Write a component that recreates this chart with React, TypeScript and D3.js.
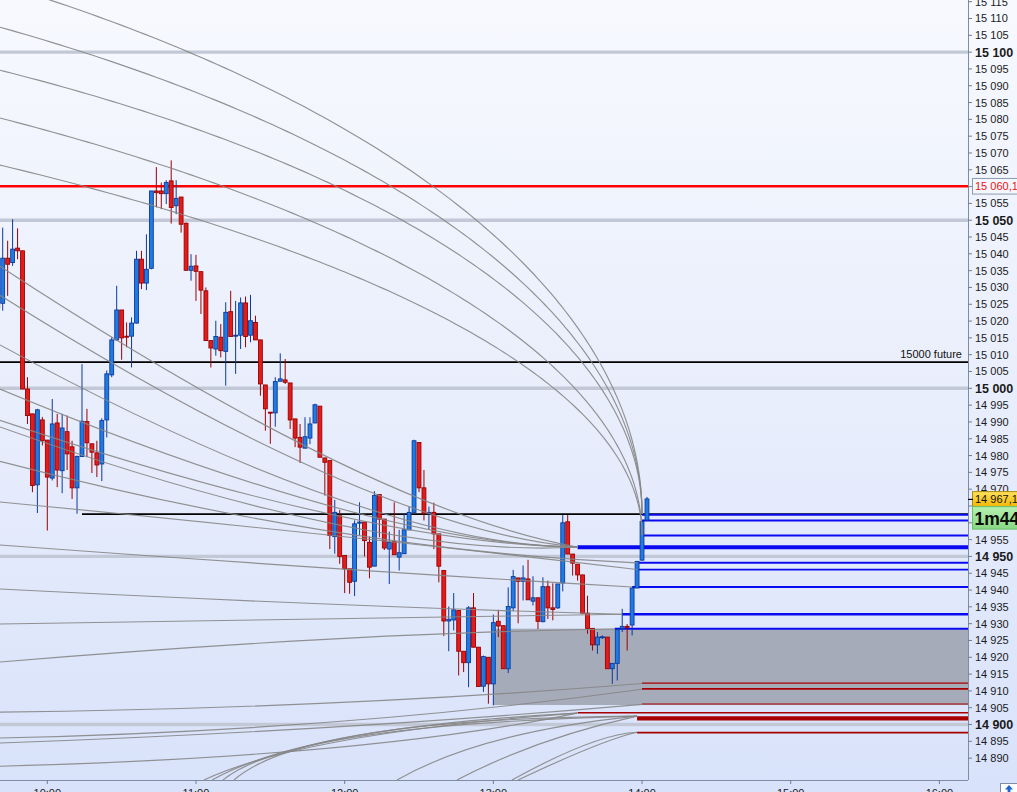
import React from "react";
import * as d3 from "d3";

// ---------- DATA ----------
// 2-minute candles starting 09:40 (minutes relative to 10:00)
const CANDLE_START_MIN = -20;
const CANDLE_STEP_MIN = 2;

const opens = [
  15030.0, 15025.3, 15038.7, 15037.4, 15041.7, 15040.9, 14999.8, 14992.4, 14971.3, 14990.6,
  14984.6, 14973.3, 14989.7, 14975.5, 14987.1, 14982.6, 14970.4, 14979.7, 14990.1, 14983.5,
  14980.8, 14977.5, 14990.6, 15004.0, 15014.4, 15023.3, 15015.5, 15015.5, 15019.4, 15038.4,
  15031.3, 15035.7, 15058.7, 15058.7, 15057.9, 15061.7, 15054.3, 15056.9, 15049.1, 15035.1,
  15036.4, 15034.7, 15029.0, 15014.2, 15011.7, 15015.2, 15011.0, 15022.8, 15015.6, 15015.8,
  15025.4, 15015.8, 15019.6, 15014.4, 15001.0, 14992.9, 14992.7, 15002.1, 15002.5, 15001.6,
  14990.9, 14985.4, 14982.2, 14985.2, 14989.7, 14994.7, 14979.3, 14978.5, 14955.9, 14962.1,
  14950.3, 14946.3, 14942.6, 14959.9, 14960.2, 14954.2, 14947.1, 14968.4, 14961.1, 14952.2,
  14954.4, 14949.8, 14950.8, 14957.9, 14963.1, 14983.9, 14970.4, 14962.8, 14963.1, 14956.7,
  14945.8, 14930.8, 14931.1, 14933.9, 14921.8, 14918.4, 14934.7, 14923.0, 14911.4, 14920.0,
  14912.1, 14930.7, 14929.4, 14916.6, 14934.7, 14943.6, 14942.6, 14943.3, 14936.7, 14937.7,
  14930.6, 14941.0, 14934.7, 14934.7, 14942.1, 14960.3, 14950.7, 14947.7, 14944.5, 14933.1,
  14928.6, 14923.7, 14926.0, 14926.0, 14916.6, 14918.2, 14928.6, 14929.2, 14929.6, 14940.6,
  14948.9, 14960.8,
];
const highs = [
  15032.0, 15047.8, 15043.9, 15050.3, 15047.6, 15041.0, 15003.3, 14992.4, 14993.9, 14991.5,
  14984.6, 14996.8, 14992.4, 14992.4, 14991.9, 14984.4, 14980.0, 15007.2, 14993.9, 14983.5,
  14984.4, 14991.1, 15005.3, 15015.2, 15030.5, 15023.3, 15019.6, 15021.1, 15040.9, 15040.9,
  15045.8, 15058.7, 15065.8, 15061.2, 15061.9, 15067.8, 15061.9, 15056.9, 15049.3, 15039.9,
  15039.7, 15034.7, 15030.0, 15014.2, 15020.1, 15019.1, 15025.6, 15029.0, 15026.0, 15027.0,
  15027.3, 15027.8, 15021.6, 15014.4, 15001.0, 14992.9, 15003.3, 15010.4, 15008.7, 15001.6,
  14990.9, 14989.4, 14991.4, 14991.4, 14995.4, 14994.7, 14979.3, 14978.5, 14966.8, 14963.8,
  14950.3, 14946.3, 14960.7, 14966.1, 14960.2, 14955.9, 14969.4, 14968.4, 14961.1, 14957.4,
  14966.1, 14957.9, 14962.8, 14964.8, 14984.7, 14983.9, 14975.7, 14964.8, 14966.0, 14956.7,
  14945.8, 14935.1, 14939.1, 14933.9, 14921.8, 14935.2, 14939.1, 14923.0, 14920.5, 14920.0,
  14932.7, 14934.1, 14929.4, 14940.8, 14946.0, 14943.6, 14947.3, 14949.0, 14944.1, 14937.7,
  14943.8, 14942.8, 14942.0, 14941.8, 14962.3, 14962.3, 14950.7, 14947.7, 14944.5, 14938.3,
  14928.6, 14927.5, 14926.5, 14926.0, 14918.2, 14928.2, 14934.4, 14929.9, 14940.8, 14948.7,
  14960.4, 14967.7,
];
const lows = [
  15023.0, 15023.1, 15027.5, 15036.4, 15038.4, 14999.8, 14989.4, 14969.1, 14962.9, 14983.0,
  14957.7, 14972.6, 14970.6, 14968.8, 14975.7, 14967.1, 14962.7, 14979.7, 14979.5, 14974.8,
  14973.6, 14972.4, 14985.4, 15003.3, 15014.2, 15008.5, 15012.2, 15006.2, 15019.3, 15029.5,
  15029.2, 15035.4, 15053.8, 15053.3, 15054.8, 15049.0, 15051.8, 15046.3, 15035.1, 15032.0,
  15026.0, 15022.1, 15014.2, 15006.2, 15009.7, 15009.2, 15000.8, 15015.4, 15004.3, 15011.7,
  15012.2, 15013.7, 15014.4, 14997.8, 14987.4, 14983.5, 14988.6, 15002.1, 15001.3, 14987.9,
  14982.5, 14977.8, 14982.2, 14983.4, 14989.6, 14979.5, 14968.1, 14952.2, 14950.8, 14947.8,
  14939.1, 14938.9, 14938.2, 14956.2, 14950.0, 14943.5, 14947.1, 14955.7, 14951.9, 14941.8,
  14950.5, 14945.8, 14950.8, 14957.9, 14963.1, 14969.1, 14960.7, 14957.9, 14952.2, 14942.3,
  14926.3, 14921.8, 14928.0, 14914.6, 14915.6, 14911.1, 14923.0, 14911.3, 14909.7, 14906.2,
  14905.7, 14926.0, 14916.6, 14915.3, 14933.7, 14930.1, 14936.9, 14937.1, 14935.4, 14928.4,
  14930.4, 14931.4, 14931.0, 14934.4, 14939.6, 14950.7, 14944.3, 14942.8, 14933.1, 14927.0,
  14922.0, 14921.0, 14925.5, 14916.6, 14912.1, 14913.1, 14927.5, 14922.0, 14926.5, 14940.6,
  14948.7, 14960.8,
];
const closes = [
  15024.0, 15038.7, 15036.9, 15041.4, 15040.9, 14999.8, 14991.9, 14971.1, 14993.6, 14984.4,
  14973.6, 14989.4, 14975.7, 14988.2, 14980.5, 14970.4, 14979.7, 14990.2, 14983.8, 14981.0,
  14977.2, 14990.4, 15004.3, 15014.4, 15023.3, 15015.0, 15015.2, 15019.4, 15038.4, 15031.3,
  15035.4, 15058.7, 15058.2, 15057.9, 15061.2, 15053.8, 15056.5, 15048.8, 15035.1, 15036.3,
  15034.8, 15029.2, 15014.2, 15012.0, 15015.4, 15011.2, 15022.6, 15015.4, 15015.8, 15025.4,
  15015.4, 15020.1, 15014.4, 15001.3, 14993.9, 14992.6, 15002.0, 15002.8, 15001.8, 14990.6,
  14985.2, 14982.5, 14985.6, 14989.4, 14995.1, 14979.5, 14978.0, 14956.2, 14963.1, 14950.0,
  14946.3, 14942.3, 14959.7, 14960.2, 14954.7, 14946.8, 14968.1, 14961.1, 14952.5, 14954.2,
  14950.5, 14951.1, 14957.9, 14963.1, 14984.4, 14970.4, 14962.8, 14963.1, 14956.7, 14947.1,
  14930.8, 14931.3, 14934.1, 14921.8, 14918.4, 14934.7, 14923.0, 14911.3, 14920.2, 14912.1,
  14930.3, 14929.3, 14916.6, 14935.1, 14944.0, 14942.6, 14943.6, 14937.1, 14937.7, 14930.7,
  14941.0, 14934.7, 14934.2, 14941.8, 14960.0, 14950.7, 14948.0, 14944.5, 14933.1, 14928.6,
  14923.7, 14926.0, 14926.1, 14916.6, 14918.2, 14928.2, 14929.2, 14929.0, 14940.6, 14948.5,
  14960.4, 14967.1,
];

// price axis
const roundLevels = [15100, 15050, 15000, 14950, 14900];
const priceTickMin = 14890;
const priceTickMax = 15115;
const priceTickStep = 5;
const hiddenTickPrices = [15060, 14965, 14960]; // covered by the price tags
// time axis (minutes after 10:00) and labels
const timeTickMins = [0, 60, 120, 180, 240, 300, 360];
const timeTickLabels = ["10:00", "11:00", "12:00", "13:00", "14:00", "15:00", "16:00"];

// horizontal drawings
const redLinePrice = 15060.1;
const futureLinePrice = 15007.8;
const futureLabel = "15000 future";
const blackLine2Price = 14962.6;
const blackLine2StartMin = 14;
const blueLevels = [14962.4, 14960.7, 14956.2, 14952.7, 14948.1, 14946.1, 14940.9, 14932.8, 14928.5];
const blueStartMins = [240, 240, 240, 214, 238, 238, 236, 232, 229];
const redLevels = [14912.3, 14910.6, 14906.1, 14903.5, 14901.8, 14897.6];
const redStartMins = [240, 240, 240, 214, 238, 238];
const zoneTop = 14928.5;
const zoneBottom = 14905.8;
const zoneStartMin = 180;

// arcs: [startMin, startPrice, viaMin, viaPrice, endMin, endPrice]
const steepArcs = [
  [1.1, 15115.5, 155.6, 15060.1, 240, 14962.6],
  [-19.1, 15107.4, 138.7, 15060.1, 240, 14962.6],
  [-19.1, 15094.6, 116.5, 15060.1, 240, 14962.6],
  [-19.1, 15080.4, 70.9, 15060.1, 240, 14956.3],
  [-19.1, 15066.4, 189.6, 15008.1, 240, 14956.3],
];
const softArcs = [
  [-19.1, 15036.3, 114.1, 14979.2, 213.8, 14952.8],
  [-19.1, 15027.7, 114.1, 14974.2, 213.8, 14952.8],
  [-19.1, 15012.9, 114.1, 14967.9, 213.8, 14952.8],
  [-19.1, 14999.8, 114.1, 14965.0, 213.8, 14952.8],
  [-19.1, 14990.5, 114.1, 14962.6, 213.8, 14952.8],
  [-19.1, 14988.5, 114.1, 14959.9, 213.8, 14952.8],
  [-19.1, 14978.3, 114.1, 14957.5, 238, 14948.1],
  [-19.1, 14966.2, 114.1, 14956.3, 238, 14946.1],
  [-19.1, 14953.4, 114.1, 14946.5, 236, 14940.9],
  [-19.1, 14940.3, 114.1, 14935.8, 231.9, 14932.8],
  [-19.1, 14929.9, 114.1, 14931.6, 231.9, 14932.8],
  [-19.1, 14918.6, 114.1, 14925.4, 229.1, 14928.4],
  [-19.1, 14903.7, 114.1, 14906.4, 240, 14912.2],
  [-19.1, 14896.0, 114.1, 14900.7, 240, 14910.5],
  [-19.1, 14894.5, 114.1, 14899.2, 240, 14906.0],
  [-19.1, 14887.6, 114.1, 14893.0, 213.8, 14903.4],
  [63.2, 14883.5, 120.9, 14895.4, 213.8, 14903.4],
  [66.5, 14883.5, 122.1, 14896.3, 213.8, 14903.4],
  [70.9, 14883.5, 126.2, 14896.5, 238, 14902.5],
  [75.3, 14883.5, 130.2, 14897.4, 238, 14902.5],
  [141.1, 14883.5, 182.3, 14895.4, 238, 14902.5],
  [165.3, 14883.5, 199.7, 14894.5, 238, 14902.5],
  [187.5, 14883.5, 217.0, 14893.9, 238, 14897.7],
  [190.0, 14883.5, 219.0, 14893.0, 238, 14897.7],
];

const lastPrice = 14967.1;
const lastPriceLabel = "14 967,1";
const redLineLabel = "15 060,1";
const timerLabel = "1m44s";

// ---------- STYLE ----------
const BLUE_WIDTHS = [1.8, 2, 2, 4, 2, 1.8, 2, 2.7, 2];
const RED_WIDTHS = [1.1, 1.8, 1.1, 1.3, 4.2, 1.8];
const W = 1017;
const H = 792;
const PR = 968;
const PB = 780;
const FONT = "'Liberation Sans', Arial, sans-serif";

const BASE = new Date(2013, 5, 10, 10, 0, 0).getTime();
const atMin = (m: number) => new Date(BASE + m * 60000);

function fmt(v: number) {
  return d3.format(",")(v).replace(/,/g, " ");
}

function ellipseArc(p1: number[], p2: number[], e: number[]): string | null {
  const a1 = p1[0] - e[0], b1 = p1[1] - e[1], a2 = p2[0] - e[0], b2 = p2[1] - e[1];
  const den = a1 * a1 * b2 * b2 - a2 * a2 * b1 * b1;
  const s = (-2 * (a1 * b2 * b2 - a2 * b1 * b1)) / den;
  const u = -(2 * a1 * s + a1 * a1 * s * s) / (b1 * b1);
  if (!(s > 0) || !(u > 0)) return null;
  const rx = 1 / s, ry = 1 / Math.sqrt(u);
  const cx = e[0] - rx, cy = e[1];
  const th0 = Math.atan2((cy - p1[1]) / ry, (p1[0] - cx) / rx);
  const thS = Math.min(Math.PI / 2, th0 + 0.15);
  const pts: [number, number][] = d3.range(0, 161).map((i) => {
    const th = thS * (1 - i / 160);
    return [cx + rx * Math.cos(th), cy - ry * Math.sin(th)];
  });
  return d3.line()(pts);
}

function quadArc(s: number[], m: number[], e: number[]): string {
  const c = [2 * m[0] - (s[0] + e[0]) / 2, 2 * m[1] - (s[1] + e[1]) / 2];
  const p = d3.path();
  p.moveTo(s[0], s[1]);
  p.quadraticCurveTo(c[0], c[1], e[0], e[1]);
  return p.toString();
}

export default function App() {
  const x = d3.scaleTime().domain([atMin(0), atMin(360)]).range([47.3, 939.4]);
  const y = d3.scaleLinear().domain([14883.5, 15115.5]).range([PB, 0]);
  const step = x(atMin(CANDLE_STEP_MIN)) - x(atMin(0));
  const bodyW = step * 0.78;

  const candles = opens.map((o, i) => ({
    t: atMin(CANDLE_START_MIN + i * CANDLE_STEP_MIN),
    o,
    h: highs[i],
    l: lows[i],
    c: closes[i],
  }));

  const priceTicks = d3.range(priceTickMin, priceTickMax + 0.1, priceTickStep);

  const pt = (m: number, p: number) => [x(atMin(m)), y(p)];

  const steepPaths = steepArcs.map((a) => {
    const s = pt(a[0], a[1]), m = pt(a[2], a[3]), e = pt(a[4], a[5]);
    return ellipseArc(s, m, e) || quadArc(s, m, e);
  });
  const softPaths = softArcs.map((a) => quadArc(pt(a[0], a[1]), pt(a[2], a[3]), pt(a[4], a[5])));

  const yLast = y(lastPrice);
  const yRed = y(redLinePrice);

  return (
    <svg
      width={W}
      height={H}
      style={{ position: "fixed", left: 0, top: 0, display: "block" }}
      fontFamily={FONT}
    >
      <defs>
        <linearGradient id="bg" x1="0" y1="0" x2="0" y2="1">
          <stop offset="0" stopColor="#f7f9fe" />
          <stop offset="0.5" stopColor="#e9eefc" />
          <stop offset="1" stopColor="#d8e2fa" />
        </linearGradient>
        <linearGradient id="yel" x1="0" y1="0" x2="0" y2="1">
          <stop offset="0" stopColor="#ffe15a" />
          <stop offset="1" stopColor="#f2b705" />
        </linearGradient>
        <linearGradient id="grn" x1="0" y1="0" x2="0" y2="1">
          <stop offset="0" stopColor="#b6f0b0" />
          <stop offset="1" stopColor="#86d883" />
        </linearGradient>
        <clipPath id="plot">
          <rect x={0} y={0} width={PR} height={PB} />
        </clipPath>
      </defs>

      <rect x={0} y={0} width={W} height={H} fill="url(#bg)" />

      <g clipPath="url(#plot)">
        {roundLevels.map((v) => (
          <line key={v} x1={0} x2={PR} y1={y(v)} y2={y(v)} stroke="#c2c8d6" strokeWidth={3.4} />
        ))}

        <rect
          x={x(atMin(zoneStartMin))}
          y={y(zoneTop)}
          width={PR - x(atMin(zoneStartMin))}
          height={y(zoneBottom) - y(zoneTop)}
          fill="#a6abba"
        />

        <line x1={0} x2={PR} y1={yRed} y2={yRed} stroke="#ff0000" strokeWidth={2.4} />
        <line x1={0} x2={PR} y1={y(futureLinePrice)} y2={y(futureLinePrice)} stroke="#000" strokeWidth={1.8} />
        <line
          x1={x(atMin(blackLine2StartMin))}
          x2={PR}
          y1={y(blackLine2Price)}
          y2={y(blackLine2Price)}
          stroke="#000"
          strokeWidth={1.8}
        />
        {blueLevels.map((v, i) => (
          <line
            key={"b" + i}
            x1={x(atMin(blueStartMins[i]))}
            x2={PR}
            y1={y(v)}
            y2={y(v)}
            stroke="#0a0af0"
            strokeWidth={BLUE_WIDTHS[i]}
          />
        ))}
        {redLevels.map((v, i) => (
          <line
            key={"r" + i}
            x1={x(atMin(redStartMins[i]))}
            x2={PR}
            y1={y(v)}
            y2={y(v)}
            stroke="#a80000"
            strokeWidth={RED_WIDTHS[i]}
          />
        ))}

        {candles.map((d, i) => {
          const cx = x(d.t);
          const up = d.c >= d.o;
          const dark = up ? "#0c3a9c" : "#9c0000";
          const fill = up ? "#1f7be3" : "#e31b1b";
          const top = y(Math.max(d.o, d.c));
          const bot = y(Math.min(d.o, d.c));
          return (
            <g key={i}>
              <line x1={cx} x2={cx} y1={y(d.h)} y2={y(d.l)} stroke={dark} strokeWidth={1} />
              <rect
                x={cx - bodyW / 2}
                y={top}
                width={bodyW}
                height={Math.max(1, bot - top)}
                fill={fill}
                stroke={dark}
                strokeWidth={0.9}
              />
            </g>
          );
        })}

        <g fill="none" stroke="#868686" strokeWidth={1.15} strokeOpacity={0.9}>
          {steepPaths.map((d, i) => (
            <path key={"s" + i} d={d} />
          ))}
          {softPaths.map((d, i) => (
            <path key={"q" + i} d={d} />
          ))}
        </g>

        <text x={962} y={y(futureLinePrice) - 4.5} textAnchor="end" fontSize={11} fill="#111">
          {futureLabel}
        </text>
      </g>

      {/* axes */}
      <line x1={PR + 0.5} x2={PR + 0.5} y1={0} y2={PB} stroke="#7d8ea3" strokeWidth={1} />
      <line x1={0} x2={PR} y1={PB + 0.5} y2={PB + 0.5} stroke="#7d8ea3" strokeWidth={1} />

      {priceTicks.map((v) => {
        const yy = y(v);
        const bold = v % 50 === 0;
        const hidden = hiddenTickPrices.includes(v);
        return (
          <g key={v}>
            <line x1={PR} x2={PR + 4} y1={yy} y2={yy} stroke="#6f7f92" strokeWidth={1} />
            {!hidden && (
              <text
                x={975}
                y={yy}
                dy="0.36em"
                fontSize={bold ? 12.5 : 11}
                fontWeight={bold ? "bold" : "normal"}
                fill="#1a1a1a"
              >
                {fmt(v)}
              </text>
            )}
          </g>
        );
      })}

      {timeTickMins.map((m, i) => {
        const xx = x(atMin(m));
        return (
          <g key={m}>
            <line x1={xx} x2={xx} y1={PB} y2={PB + 4} stroke="#6f7f92" strokeWidth={1} />
            <text x={xx} y={797} textAnchor="middle" fontSize={11} fill="#1a1a1a">
              {timeTickLabels[i]}
            </text>
          </g>
        );
      })}

      {/* red line price tag */}
      <rect x={972.5} y={yRed - 7.8} width={50} height={15.6} fill="#f5f7ff" stroke="#8b9bb0" strokeWidth={1} />
      <text x={975} y={yRed} dy="0.36em" fontSize={11} fill="#ee1111">
        {redLineLabel}
      </text>

      {/* last price tag + timer */}
      <rect x={972.5} y={yLast - 7.3} width={50} height={15} fill="url(#yel)" stroke="#a88a10" strokeWidth={1} />
      <line x1={PR} x2={PR + 5} y1={yLast + 0.5} y2={yLast + 0.5} stroke="#000" strokeWidth={1.2} />
      <text x={975} y={yLast} dy="0.36em" fontSize={11} fill="#111">
        {lastPriceLabel}
      </text>
      <rect x={972.5} y={yLast + 7.7} width={50} height={22.5} fill="url(#grn)" stroke="#6cbf6c" strokeWidth={1} />
      <text x={974.5} y={yLast + 26} fontSize={17.5} fontWeight="bold" fill="#0b0b0b">
        {timerLabel}
      </text>

      {/* scroll button */}
      <rect x={1000.5} y={783.5} width={17} height={10} fill="#ffffff" stroke="#7d8ea3" strokeWidth={1} />
      <path d="M1009,785 L1005,789.5 L1007.6,789.5 L1007.6,793 L1010.4,793 L1010.4,789.5 L1013,789.5 Z" fill="#1c64d0" />
    </svg>
  );
}
